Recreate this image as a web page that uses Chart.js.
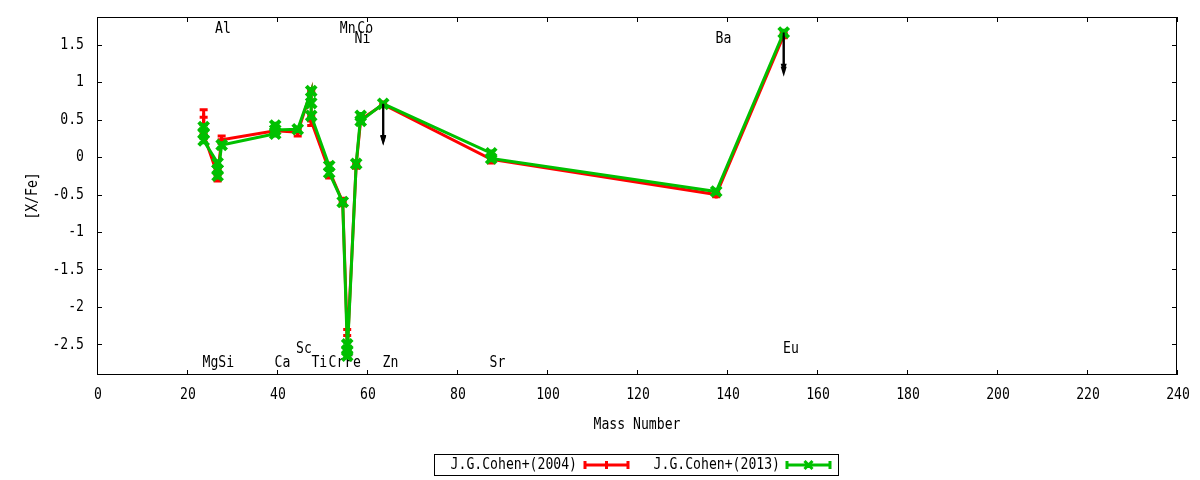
<!DOCTYPE html>
<html>
<head>
<meta charset="utf-8">
<script src="https://cdn.jsdelivr.net/npm/chart.js@4.4.1/dist/chart.umd.min.js"></script>
<style>
html, body { margin: 0; padding: 0; background: #fff; }
</style>
</head>
<body>
<canvas id="chart" width="1200" height="480"></canvas>
<script>
var FONT = '"DejaVu Sans Mono", monospace';

// J.G.Cohen+(2004)
var mass2004 = [23.7, 23.7, 26.8, 27.7, 39.6, 44.6, 47.6, 47.6, 51.6, 54.6, 55.6, 55.6, 57.6, 58.6, 63.6, 87.6, 137.6, 152.6];
var xfe2004  = [0.53, 0.30, -0.24, 0.23, 0.35, 0.33, 0.88, 0.48, -0.18, -0.60, -2.38, -2.60, -0.10, 0.50, 0.70, -0.03, -0.50, 1.62];
var err2004  = [0.10, 0.05, 0.08, 0.05, 0.05, 0.05, 0.03, 0.06, 0.10, 0.05, 0.08, 0.03, 0.05, 0.05, 0, 0.05, 0.03, 0.03];
var upper2004 = [0, 0, 0, 0, 0, 0, 0, 0, 0, 0, 0, 0, 0, 0, 1, 0, 0, 1];

// J.G.Cohen+(2013)
var mass2013 = [23.7, 23.7, 23.7, 26.8, 26.8, 26.8, 27.7, 39.6, 39.6, 39.6, 44.6, 47.6, 47.6, 47.6, 51.6, 51.6, 54.6, 55.6, 55.6, 55.6, 57.6, 58.6, 58.6, 63.6, 87.6, 87.6, 137.6, 152.6];
var xfe2013  = [0.40, 0.32, 0.22, -0.08, -0.17, -0.25, 0.16, 0.31, 0.42, 0.36, 0.37, 0.88, 0.72, 0.55, -0.12, -0.21, -0.60, -2.50, -2.58, -2.65, -0.09, 0.55, 0.48, 0.71, 0.05, -0.02, -0.46, 1.66];
var err2013  = [0.03, 0.03, 0.03, 0.03, 0.03, 0.03, 0.03, 0.03, 0.03, 0.03, 0.03, 0.03, 0.03, 0.03, 0.03, 0.03, 0.03, 0.03, 0.03, 0.03, 0.03, 0.03, 0.03, 0, 0.03, 0.03, 0.03, 0.03];
var upper2013 = [0, 0, 0, 0, 0, 0, 0, 0, 0, 0, 0, 0, 0, 0, 0, 0, 0, 0, 0, 0, 0, 0, 0, 1, 0, 0, 0, 1];

// element labels (data coordinates)
var elemNames = ['Al', 'Mn', 'Co', 'Ni', 'Ba', 'Eu', 'Sc', 'Mg', 'Si', 'Ca', 'Ti', 'Cr', 'Fe', 'Zn', 'Sr'];
var elemX     = [28.0, 55.7, 59.6, 59.0, 139.2, 154.2, 46.0, 25.2, 28.7, 41.2, 49.4, 53.2, 56.9, 65.2, 89.0];
var elemY     = [1.71, 1.71, 1.71, 1.58, 1.58, -2.56, -2.56, -2.75, -2.75, -2.75, -2.75, -2.75, -2.75, -2.75, -2.75];

var xTicks = [0, 20, 40, 60, 80, 100, 120, 140, 160, 180, 200, 220, 240];
var yTicks = [-2.5, -2, -1.5, -1, -0.5, 0, 0.5, 1, 1.5];

var ARROW_LEN = 0.55;  // length of upper-limit arrows in [X/Fe]

function toPoints(xs, ys) {
    return xs.map(function (x, i) { return {x: x, y: ys[i]}; });
}

// narrow text, like the gnuplot png font
function drawText(ctx, text, x, y, align) {
    ctx.save();
    ctx.font = '16px ' + FONT;
    ctx.fillStyle = '#000';
    ctx.textBaseline = 'middle';
    ctx.textAlign = align || 'center';
    ctx.translate(x, y);
    ctx.scale(0.82, 1);
    ctx.fillText(text, 0, 0);
    ctx.restore();
}

// frame with inward ticks, tick labels, axis titles
var frame = {
    id: 'frame',
    beforeDatasetsDraw: function (chart) {
        var ctx = chart.ctx, a = chart.chartArea;
        var xs = chart.scales.x, ys = chart.scales.y;
        ctx.save();
        ctx.strokeStyle = '#000';
        ctx.lineWidth = 1;
        ctx.strokeRect(a.left + 0.5, a.top + 0.5, a.right - a.left - 1, a.bottom - a.top - 1);
        ctx.beginPath();
        xTicks.forEach(function (v) {
            var px = Math.round(xs.getPixelForValue(v)) + 0.5;
            ctx.moveTo(px, a.bottom); ctx.lineTo(px, a.bottom - 5);
            ctx.moveTo(px, a.top); ctx.lineTo(px, a.top + 5);
        });
        yTicks.forEach(function (v) {
            var py = Math.round(ys.getPixelForValue(v)) + 0.5;
            ctx.moveTo(a.left, py); ctx.lineTo(a.left + 5, py);
            ctx.moveTo(a.right, py); ctx.lineTo(a.right - 5, py);
        });
        ctx.stroke();
        ctx.restore();

        xTicks.forEach(function (v) {
            drawText(ctx, String(v), xs.getPixelForValue(v) + 1, a.bottom + 20, 'center');
        });
        yTicks.forEach(function (v) {
            drawText(ctx, String(v), a.left - 13, ys.getPixelForValue(v), 'right');
        });
        drawText(ctx, 'Mass Number', (a.left + a.right) / 2, 425, 'center');
        ctx.save();
        ctx.translate(33, (a.top + a.bottom) / 2);
        ctx.rotate(-Math.PI / 2);
        drawText(ctx, '[X/Fe]', 0, 0, 'center');
        ctx.restore();

        for (var i = 0; i < elemNames.length; i++) {
            drawText(ctx, elemNames[i], xs.getPixelForValue(elemX[i]), ys.getPixelForValue(elemY[i]), 'center');
        }
    }
};

// error bars under each line, upper-limit arrows on top
var errorBars = {
    id: 'errorBars',
    beforeDatasetDraw: function (chart, args) {
        var ds = chart.data.datasets[args.index];
        var xs = chart.scales.x, ys = chart.scales.y, ctx = chart.ctx;
        ctx.save();
        ctx.strokeStyle = ds.borderColor;
        ctx.lineWidth = 3;
        ds.data.forEach(function (p, i) {
            var e = ds.err[i];
            if (!e) return;
            var px = xs.getPixelForValue(p.x);
            var top = ys.getPixelForValue(p.y + e), bot = ys.getPixelForValue(p.y - e);
            ctx.beginPath();
            ctx.moveTo(px, top); ctx.lineTo(px, bot);
            ctx.moveTo(px - 4, top); ctx.lineTo(px + 4, top);
            ctx.moveTo(px - 4, bot); ctx.lineTo(px + 4, bot);
            ctx.stroke();
        });
        ctx.restore();
    },
    afterDatasetsDraw: function (chart) {
        var xs = chart.scales.x, ys = chart.scales.y, ctx = chart.ctx;
        ctx.save();
        ctx.strokeStyle = '#000';
        ctx.fillStyle = '#000';
        ctx.lineWidth = 2;
        chart.data.datasets.forEach(function (ds) {
            ds.data.forEach(function (p, i) {
                if (!ds.upper[i]) return;
                var px = xs.getPixelForValue(p.x);
                var y0 = ys.getPixelForValue(p.y), y1 = ys.getPixelForValue(p.y - ARROW_LEN);
                ctx.beginPath();
                ctx.moveTo(px, y0); ctx.lineTo(px, y1 - 8);
                ctx.stroke();
                ctx.beginPath();
                ctx.moveTo(px, y1);
                ctx.lineTo(px - 3, y1 - 10);
                ctx.lineTo(px + 3, y1 - 10);
                ctx.closePath();
                ctx.fill();
            });
        });
        ctx.restore();
    }
};

// boxed legend below the plot
var boxLegend = {
    id: 'boxLegend',
    afterDraw: function (chart) {
        var ctx = chart.ctx;
        var textEnds = [577, 780], sampleStarts = [585, 787];
        ctx.save();
        ctx.strokeStyle = '#000';
        ctx.lineWidth = 1;
        ctx.strokeRect(434.5, 454.5, 404, 21);
        ctx.restore();
        chart.data.datasets.forEach(function (ds, i) {
            var y = 465;
            drawText(ctx, ds.label, textEnds[i], y, 'right');
            var x0 = sampleStarts[i], x1 = x0 + 43, xm = (x0 + x1) / 2;
            ctx.save();
            ctx.strokeStyle = ds.borderColor;
            ctx.lineWidth = 3;
            ctx.beginPath();
            ctx.moveTo(x0, y); ctx.lineTo(x1, y);
            ctx.moveTo(x0, y - 4); ctx.lineTo(x0, y + 4);
            ctx.moveTo(x1, y - 4); ctx.lineTo(x1, y + 4);
            if (ds.pointStyle === 'cross') {
                ctx.moveTo(xm, y - 4); ctx.lineTo(xm, y + 4);
            } else {
                ctx.moveTo(xm - 4, y - 4); ctx.lineTo(xm + 4, y + 4);
                ctx.moveTo(xm - 4, y + 4); ctx.lineTo(xm + 4, y - 4);
            }
            ctx.stroke();
            ctx.restore();
        });
    }
};

var ctx = document.getElementById('chart').getContext('2d');
var chart = new Chart(ctx, {
    type: 'scatter',
    data: {
        datasets: [{
            label: 'J.G.Cohen+(2004)',
            data: toPoints(mass2004, xfe2004),
            err: err2004,
            upper: upper2004,
            order: 2,
            showLine: true,
            borderColor: '#ff0000',
            backgroundColor: '#ff0000',
            borderWidth: 3,
            pointStyle: 'cross',
            pointRadius: 4,
            pointBorderWidth: 3,
            clip: false
        }, {
            label: 'J.G.Cohen+(2013)',
            data: toPoints(mass2013, xfe2013),
            err: err2013,
            upper: upper2013,
            order: 1,
            showLine: true,
            borderColor: '#00c000',
            backgroundColor: '#00c000',
            borderWidth: 3,
            pointStyle: 'crossRot',
            pointRadius: 7,
            pointBorderWidth: 4,
            clip: false
        }]
    },
    options: {
        responsive: false,
        animation: false,
        devicePixelRatio: 1,
        layout: {padding: {top: 17, right: 23, left: 0, bottom: 0}},
        plugins: {
            legend: {display: false},
            tooltip: {enabled: false}
        },
        scales: {
            x: {
                type: 'linear',
                min: 0,
                max: 240,
                grid: {display: false, drawTicks: false},
                border: {display: false},
                ticks: {display: false},
                afterFit: function (s) { s.height = 105; }
            },
            y: {
                type: 'linear',
                min: -2.907,
                max: 1.867,
                grid: {display: false, drawTicks: false},
                border: {display: false},
                ticks: {display: false},
                afterFit: function (s) { s.width = 97; }
            }
        }
    },
    plugins: [frame, errorBars, boxLegend]
});
</script>
</body>
</html>
